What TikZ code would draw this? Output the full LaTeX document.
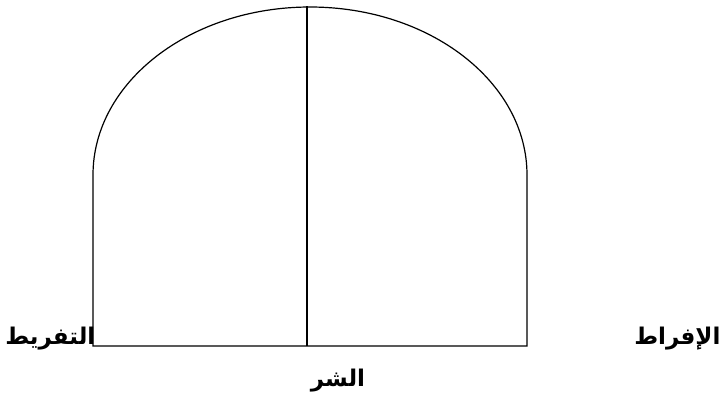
\documentclass[tikz,border=0pt]{standalone}
\usepackage{fontspec}
\usetikzlibrary{positioning}
\TeXXeTstate=1
\newfontfamily\arabicfont[Script=Arabic]{DejaVu Sans}

\begin{document}
\begin{tikzpicture}[x=1pt, y=-1pt, line width=1.2pt,
  arlabel/.style={font=\arabicfont\bfseries\fontsize{23}{27}\selectfont, inner sep=0pt}]
  \useasboundingbox (0,0) rectangle (723,399);
  % corners of the dome
  \coordinate (BL) at (93,346);
  \coordinate (BR) at (527,346);
  \coordinate (TL) at (93,175);
  \coordinate (TR) at (527,175);
  \coordinate (apex) at (307,6);
  \coordinate (mid) at (307,346);

  % outline and middle line
  \draw (BL) -- (TL) arc[start angle=180, end angle=0, x radius=217pt, y radius=168pt] -- (BR) -- cycle;
  \draw (apex) -- (mid);

  % labels
  \node[arlabel, anchor=base east] (tafrit) at (96,344) {\arabicfont\beginR التفريط\endR};
  \node[arlabel, anchor=base east] (ifrat) at (721,344) {\arabicfont\beginR الإفراط\endR};
  \node[arlabel, anchor=base] (sharr) at (338,386) {\arabicfont\beginR الشر\endR};
\end{tikzpicture}
\end{document}
